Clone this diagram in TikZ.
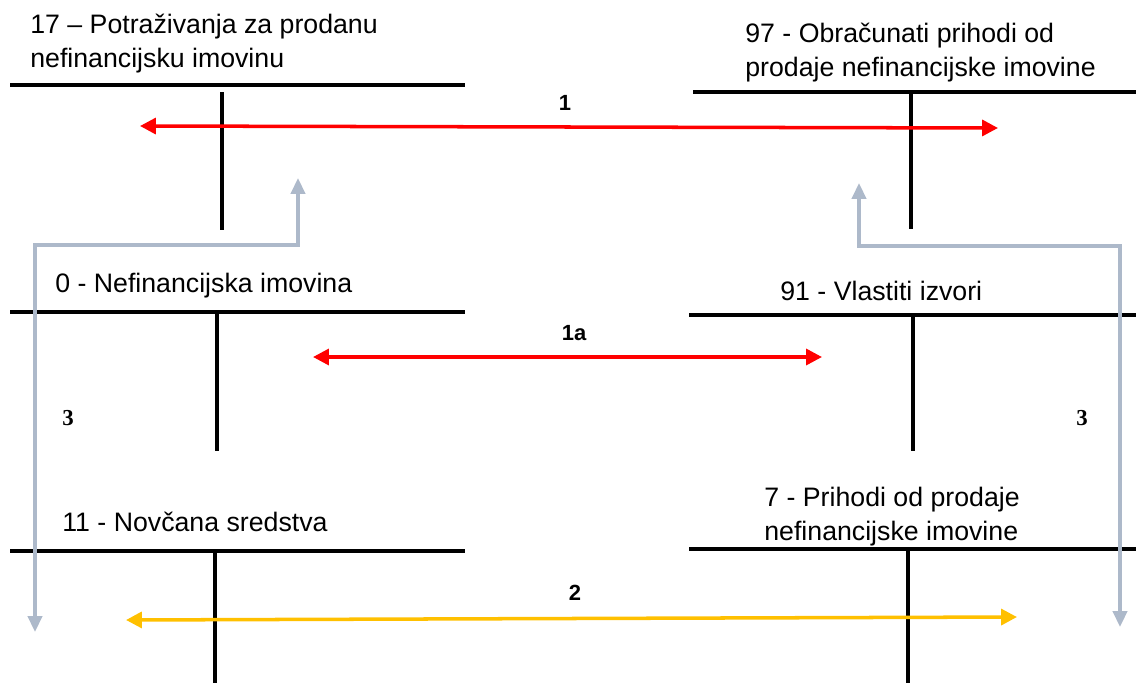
\documentclass[tikz,border=0pt]{standalone}
\usepackage{fontspec}
\setmainfont{Liberation Sans}
\newfontfamily\brojfont{Liberation Serif}
\usetikzlibrary{positioning,arrows.meta}

\definecolor{crvena}{RGB}{255,0,0}
\definecolor{zuta}{RGB}{255,192,0}
\definecolor{sivo}{RGB}{173,185,202}

\begin{document}
\begin{tikzpicture}[x = 0.02cm, y = -0.02cm,
  konto/.style = {anchor = base west, align = left, inner sep = 0pt, font = \fontsize{15.2}{19.3}\selectfont},
  tlinija/.style = {line width = 2.5pt},
  oznaka/.style = {inner sep = 0pt, font = \bfseries\fontsize{12.5}{14}\selectfont},
  tok/.style = {line width = 2pt, {Triangle[length = 9pt, width = 9pt]}-{Triangle[length = 9pt, width = 9pt]}},
  povrat/.style = {line width = 2pt, draw = sivo, {Triangle[length = 9pt, width = 8pt]}-{Triangle[length = 9pt, width = 8pt]}}]
\useasboundingbox (0,0) rectangle (1136,683);

% konta
\node[konto] (konto17) at (30,67) {17 – Potraživanja za prodanu\\nefinancijsku imovinu};
\node[konto] (konto97) at (745,76) {97 - Obračunati prihodi od\\prodaje nefinancijske imovine};
\node[konto] (konto0) at (55,292) {0 - Nefinancijska imovina};
\node[konto] (konto91) at (780,300) {91 - Vlastiti izvori};
\node[konto] (konto11) at (62,531) {11 - Novčana sredstva};
\node[konto] (konto7) at (764,540) {7 - Prihodi od prodaje\\nefinancijske imovine};

\draw[tlinija] (10,85) -- (465,85) (222,92) -- (222,230);
\draw[tlinija] (693,92) -- (1136,92) (911,94) -- (911,229);
\draw[tlinija] (10,312) -- (465,312) (217,313) -- (217,451);
\draw[tlinija] (689,315) -- (1136,315) (913,313) -- (913,451);
\draw[tlinija] (10,551) -- (465,551) (215,549) -- (215,683);
\draw[tlinija] (689,549) -- (1136,549) (908,547) -- (908,683);

% knjizenja
\coordinate (lijevo1) at (140,126);
\coordinate (desno1) at (998,128);
\coordinate (lijevo1a) at (313,357);
\coordinate (desno1a) at (822,357);
\coordinate (lijevo2) at (126,620);
\coordinate (desno2) at (1017,617);
\draw[tok, crvena] (lijevo1) -- (desno1);
\draw[tok, crvena] (lijevo1a) -- (desno1a);
\draw[tok, zuta] (lijevo2) -- (desno2);
\node[oznaka] (o1) at (565,103) {1};
\node[oznaka] (o1a) at (574,333) {1a};
\node[oznaka] (o2) at (575,593) {2};

\begin{scope}[nodes = {inner sep = 0pt, font = \brojfont\bfseries\fontsize{13}{14}\selectfont}]
\coordinate (gore3l) at (298,178);
\coordinate (dolje3l) at (35,632);
\coordinate (gore3d) at (859,183);
\coordinate (dolje3d) at (1120,627);
\draw[povrat] (gore3l) |- (35,245) -- (dolje3l);
\draw[povrat] (gore3d) |- (1120,246) -- (dolje3d);
\node (o3l) at (68,418) {3};
\node (o3d) at (1082,418) {3};
\end{scope}
\end{tikzpicture}
\end{document}
